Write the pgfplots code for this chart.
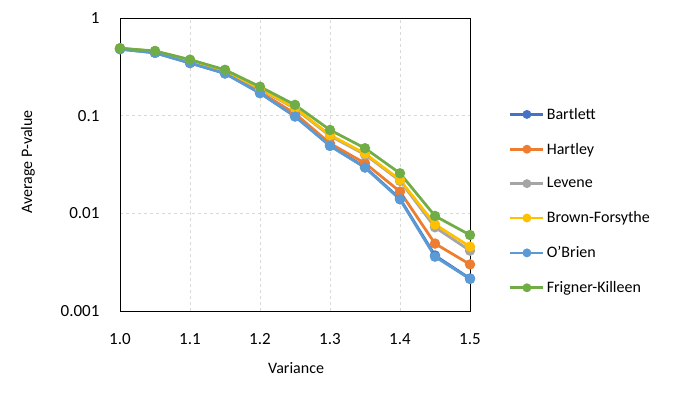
\documentclass[border=0pt]{standalone}
\usepackage{pgfplots}
\pgfplotsset{compat=1.18}
\usepackage{fontspec}
\setmainfont{Carlito}
\definecolor{cBart}{HTML}{4472C4}
\definecolor{cHart}{HTML}{ED7D31}
\definecolor{cLev}{HTML}{A5A5A5}
\definecolor{cBF}{HTML}{FFC000}
\definecolor{cOB}{HTML}{5B9BD5}
\definecolor{cFK}{HTML}{70AD47}
\definecolor{gridc}{HTML}{D9D9D9}
\begin{document}
\begin{tikzpicture}
\path[use as bounding box] (0,0) rectangle (688pt,396pt);
\begin{axis}[
  at={(120pt,85pt)}, anchor=south west,
  scale only axis, width=350pt, height=293pt,
  ymode=log, xmin=1.0, xmax=1.5, ymin=0.001, ymax=1,
  xtick={1.0,1.1,1.2,1.3,1.4,1.5},
  xticklabels={1.0,1.1,1.2,1.3,1.4,1.5},
  ytick={0.001,0.01,0.1,1},
  yticklabels={0.001,0.01,0.1,1},
  minor tick num=0, yminorticks=false,
  major tick length=0pt,
  grid=major,
  major grid style={gridc, dashed, line width=0.75pt},
  axis line style={black, line width=0.9pt},
  tick label style={font=\fontsize{17}{20}\selectfont, text=black},
  xticklabel style={yshift=-19pt},
  yticklabel style={xshift=-17pt},
  xlabel={Variance}, ylabel={Average P-value},
  label style={font=\fontsize{16}{19}\selectfont},
  xlabel style={at={(axis description cs:0.503,-0.195)}, anchor=center},
  ylabel style={at={(axis description cs:-0.263,0.509)}, anchor=center},
  every axis plot/.append style={line width=2.75pt, mark=*, mark size=3.75pt, mark options={line width=0.5pt}},
  legend style={draw=none, fill=none, at={(1.111,0.70)}, anchor=north west,
    font=\fontsize{16}{19}\selectfont, row sep=18.2pt, inner sep=0pt},
  legend cell align=left,
  legend image code/.code={\draw[#1, mark repeat=2, mark phase=2, line width=2.75pt, mark size=3pt] plot coordinates {(0pt,0pt) (16.5pt,0pt) (33pt,0pt)};},
]
\addplot[cBart, mark options={fill=cBart}] coordinates {(1.0,0.48)(1.05,0.44)(1.1,0.347)(1.15,0.272)(1.2,0.171)(1.25,0.099)(1.3,0.0495)(1.35,0.0297)(1.4,0.0141)(1.45,0.0037)(1.5,0.00215)};
\addlegendentry{Bartlett}
\addplot[cHart, mark options={fill=cHart}] coordinates {(1.0,0.485)(1.05,0.45)(1.1,0.355)(1.15,0.278)(1.2,0.175)(1.25,0.105)(1.3,0.052)(1.35,0.0326)(1.4,0.0167)(1.45,0.0049)(1.5,0.0030)};
\addlegendentry{Hartley}
\addplot[cLev, mark options={fill=cLev}] coordinates {(1.0,0.49)(1.05,0.455)(1.1,0.368)(1.15,0.288)(1.2,0.188)(1.25,0.118)(1.3,0.062)(1.35,0.040)(1.4,0.0215)(1.45,0.0072)(1.5,0.00415)};
\addlegendentry{Levene}
\addplot[cBF, mark options={fill=cBF}] coordinates {(1.0,0.49)(1.05,0.455)(1.1,0.37)(1.15,0.29)(1.2,0.19)(1.25,0.12)(1.3,0.0634)(1.35,0.041)(1.4,0.022)(1.45,0.0077)(1.5,0.00456)};
\addlegendentry{Brown-Forsythe}
\addplot[cOB, mark options={fill=cOB}] coordinates {(1.0,0.48)(1.05,0.44)(1.1,0.345)(1.15,0.27)(1.2,0.17)(1.25,0.098)(1.3,0.049)(1.35,0.0294)(1.4,0.0139)(1.45,0.0036)(1.5,0.00213)};
\addlegendentry{O'Brien}
\addplot[cFK, mark options={fill=cFK}] coordinates {(1.0,0.49)(1.05,0.46)(1.1,0.375)(1.15,0.295)(1.2,0.198)(1.25,0.129)(1.3,0.0714)(1.35,0.0464)(1.4,0.0257)(1.45,0.0094)(1.5,0.0060)};
\addlegendentry{Frigner-Killeen}
\end{axis}
\end{tikzpicture}
\end{document}
